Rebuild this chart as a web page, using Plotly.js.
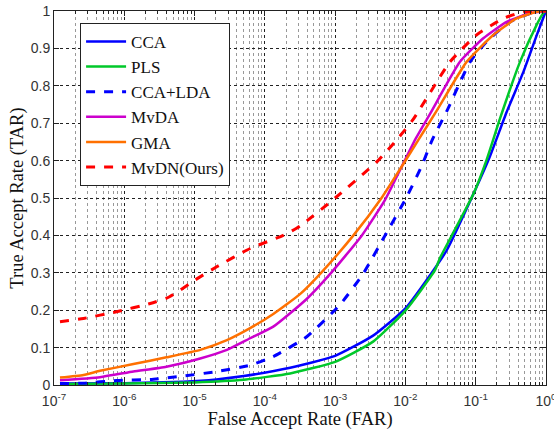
<!DOCTYPE html>
<html>
<head>
<meta charset="utf-8">
<script src="https://cdn.plot.ly/plotly-3.0.1.min.js"></script>
<style>html,body{margin:0;padding:0;background:#fff;}#chart{width:554px;height:431px;overflow:hidden;}</style>
</head>
<body>
<div id="chart"></div>
<script>
// log10(FAR) and TAR
const ccaLogFar = [-6.915,-6,-5.16,-4.69,-4.3,-3.64,-3.0,-2.46,-2.0,-1.6,-1.41,-1.03,-0.8,-0.56,-0.32,-0.13,-0.014,0];
const ccaTar    = [0.004,0.005,0.009,0.015,0.024,0.046,0.078,0.132,0.205,0.307,0.361,0.512,0.61,0.73,0.838,0.936,0.994,1];

const plsLogFar = [-6.915,-6,-5,-4.3,-3.64,-3.0,-2.46,-2.0,-1.58,-1.51,-1.3,-1.03,-0.845,-0.655,-0.37,-0.133,-0.04,0];
const plsTar    = [0.003,0.004,0.007,0.014,0.031,0.062,0.116,0.199,0.307,0.339,0.414,0.512,0.602,0.712,0.864,0.963,0.994,1];

const ccaldaLogFar = [-6.915,-6.58,-6.11,-5.63,-5.16,-4.685,-4.21,-3.88,-3.405,-2.93,-2.6,-2.29,-1.99,-1.77,-1.62,-1.41,-1.08,-0.845,-0.513,-0.2,0];
const ccaldaTar    = [0.004,0.005,0.012,0.015,0.024,0.036,0.053,0.076,0.129,0.215,0.298,0.4,0.5,0.585,0.655,0.733,0.864,0.918,0.971,0.995,1];

const mvdaLogFar = [-6.915,-6.345,-5.87,-5.4,-4.92,-4.54,-4.21,-3.88,-3.405,-3.08,-2.62,-2.29,-2.05,-1.85,-1.65,-1.224,-0.892,-0.56,-0.228,0];
const mvdaTar    = [0.013,0.021,0.036,0.049,0.071,0.094,0.125,0.156,0.23,0.295,0.4,0.495,0.585,0.66,0.725,0.864,0.927,0.971,0.994,1];

const gmaLogFar = [-6.915,-6.58,-6.345,-5.87,-5.4,-4.92,-4.54,-4.21,-3.88,-3.5,-3.2,-2.74,-2.34,-2.05,-1.8,-1.55,-1.13,-0.75,-0.418,-0.13,0];
const gmaTar    = [0.02,0.027,0.038,0.056,0.074,0.094,0.120,0.152,0.19,0.243,0.3,0.4,0.5,0.585,0.66,0.735,0.864,0.936,0.98,0.998,1];

const mvdnLogFar = [-6.915,-6.58,-6.11,-5.63,-5.4,-5.25,-5.0,-4.685,-4.21,-3.738,-3.5,-3.0,-2.39,-2.125,-1.89,-1.366,-0.987,-0.608,-0.32,0];
const mvdnTar    = [0.169,0.178,0.196,0.218,0.232,0.248,0.28,0.316,0.365,0.40,0.425,0.5,0.6,0.655,0.71,0.864,0.936,0.98,0.998,1];

const seriesNames = ['CCA','PLS','CCA+LDA','MvDA','GMA','MvDN(Ours)'];
const xTickVals = [1e-7,1e-6,1e-5,1e-4,1e-3,1e-2,1e-1,1];
const xTickText = ['10<sup>-7</sup>','10<sup>-6</sup>','10<sup>-5</sup>','10<sup>-4</sup>','10<sup>-3</sup>','10<sup>-2</sup>','10<sup>-1</sup>','10<sup>0</sup>'];
const yTickVals = [0,0.1,0.2,0.3,0.4,0.5,0.6,0.7,0.8,0.9,1];
const yTickText = ['0','0.1','0.2','0.3','0.4','0.5','0.6','0.7','0.8','0.9','1'];

const toFar = a => a.map(v => Math.pow(10, v));
const mk = (lx, y, name, color, dash, w) => ({
  x: toFar(lx), y: y, name: name, type: 'scatter', mode: 'lines',
  line: {color: color, width: w, dash: dash, shape: 'spline', smoothing: 0.5}
});

const data = [
  mk(ccaLogFar, ccaTar, seriesNames[0], '#0000ff', 'solid', 2.5),
  mk(plsLogFar, plsTar, seriesNames[1], '#00c82a', 'solid', 2.5),
  mk(ccaldaLogFar, ccaldaTar, seriesNames[2], '#0000ff', 'dash', 3),
  mk(mvdaLogFar, mvdaTar, seriesNames[3], '#cc00cc', 'solid', 2.5),
  mk(gmaLogFar, gmaTar, seriesNames[4], '#ff7000', 'solid', 2.5),
  mk(mvdnLogFar, mvdnTar, seriesNames[5], '#ff0000', 'dash', 3)
];

const tickFont = {family: 'Liberation Sans, Arial, sans-serif', size: 14, color: '#333'};
const titleFont = {family: 'Liberation Serif, Times New Roman, serif', size: 18.5, color: '#111'};
const layout = {
  width: 554, height: 431,
  margin: {l: 54, r: 8, t: 11, b: 46},
  paper_bgcolor: '#fff', plot_bgcolor: '#fff',
  showlegend: true,
  xaxis: {
    type: 'log', range: [-7, 0],
    tickmode: 'array', tickvals: xTickVals, ticktext: xTickText,
    tickfont: tickFont, ticklabelstandoff: 3, ticklabeloverflow: 'allow',
    ticks: 'inside', ticklen: 5, tickcolor: '#222',
    showline: true, linecolor: '#222', linewidth: 1, mirror: 'ticks',
    showgrid: true, gridcolor: '#222', griddash: 'dot', gridwidth: 1,
    minor: {dtick: 'D1', ticks: 'inside', ticklen: 3, tickcolor: '#222', showgrid: true, gridcolor: '#999', griddash: 'dot', gridwidth: 1},
    zeroline: false,
    title: {text: 'False Accept Rate (FAR)', font: titleFont, standoff: 2}
  },
  yaxis: {
    range: [0, 1],
    tickmode: 'array', tickvals: yTickVals, ticktext: yTickText,
    tickfont: tickFont,
    ticks: 'inside', ticklen: 5, tickcolor: '#222',
    showline: true, linecolor: '#222', linewidth: 1, mirror: 'ticks',
    showgrid: true, gridcolor: '#222', griddash: 'dot', gridwidth: 1,
    zeroline: false,
    title: {text: 'True Accept Rate (TAR)', font: titleFont, standoff: 2}
  },
  legend: {
    x: 0.053, y: 0.968, xanchor: 'left', yanchor: 'top',
    bgcolor: '#fff', bordercolor: '#222', borderwidth: 1,
    font: {family: 'Liberation Serif, Times New Roman, serif', size: 17, color: '#111'},
    itemwidth: 40
  }
};

Plotly.newPlot('chart', data, layout, {displayModeBar: false, staticPlot: true});
</script>
</body>
</html>
